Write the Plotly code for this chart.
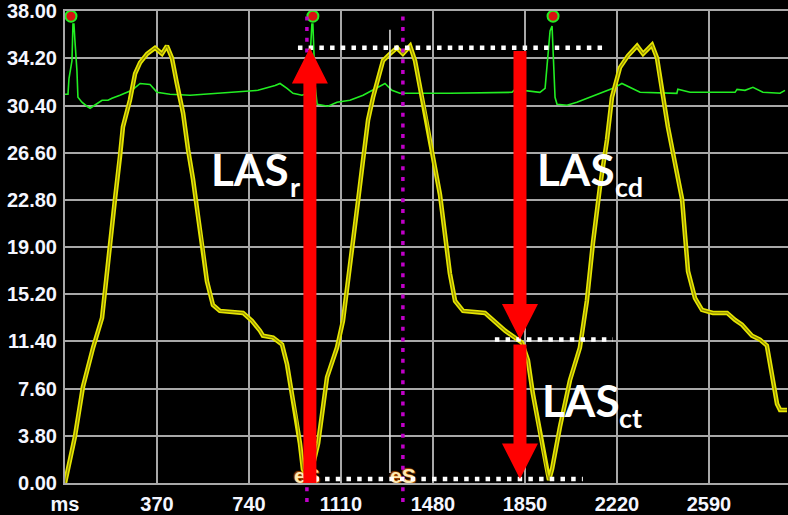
import plotly.graph_objects as go

# ---------------- data ----------------
las_t = [0, 40, 72, 113, 149, 161, 181, 201, 221, 233, 261, 282, 302, 330, 362, 390, 410, 430,
         450, 475, 495, 515, 535, 555, 571, 595, 623, 716, 752, 784, 796, 837, 873, 893, 913,
         933, 945, 957, 981, 1018, 1054, 1094, 1118, 1138, 1158, 1178, 1199, 1219, 1239, 1259,
         1279, 1307, 1335, 1359, 1388, 1408, 1428, 1456, 1480, 1508, 1528, 1548, 1569, 1601,
         1689, 1721, 1770, 1838, 1862, 1882, 1910, 1939, 1947, 1959, 1991, 2031, 2071, 2099,
         2124, 2152, 2180, 2200, 2232, 2264, 2301, 2325, 2361, 2381, 2401, 2425, 2453, 2482,
         2494, 2506, 2534, 2562, 2606, 2663, 2695, 2723, 2763, 2795, 2823, 2844, 2864, 2876, 2904]
las_v = [0.0, 3.74, 7.73, 10.91, 13.30, 15.69, 19.12, 22.86, 26.29, 28.68, 30.83, 32.98, 33.86,
         34.57, 35.05, 34.57, 35.21, 34.25, 32.18, 29.79, 26.85, 24.46, 21.51, 18.88, 16.25,
         14.34, 13.86, 13.70, 13.06, 12.27, 11.87, 11.71, 11.15, 9.56, 7.17, 5.10, 3.19, 1.12,
         0.08, 3.19, 8.52, 10.91, 13.06, 16.25, 19.12, 22.62, 26.05, 29.24, 31.07, 32.66, 34.01,
         34.57, 35.05, 34.57, 35.21, 34.01, 31.86, 29.24, 26.29, 23.26, 20.07, 16.89, 14.66,
         13.86, 13.70, 13.14, 12.27, 11.31, 9.88, 7.17, 3.98, 0.80, 0.24, 1.12, 4.54, 8.28,
         10.91, 14.66, 19.44, 23.90, 27.64, 31.07, 33.46, 34.41, 35.21, 34.57, 35.29, 34.25,
         31.63, 28.68, 25.81, 22.86, 19.92, 17.05, 14.90, 13.94, 13.70, 13.70, 13.14, 12.75,
         11.87, 11.55, 11.07, 8.76, 6.37, 5.89, 5.89]

ecg_t = [0, 12, 16, 28, 32, 36, 40, 48, 52, 68, 88, 101, 113, 149, 173, 189, 221, 269, 302,
         342, 370, 422, 503, 776, 845, 865, 893, 917, 953, 977, 985, 993, 997, 1006, 1014,
         1058, 1094, 1146, 1199, 1235, 1287, 1315, 1347, 1548, 1798, 1810, 1910, 1931, 1943,
         1951, 1959, 1971, 1979, 2019, 2059, 2099, 2152, 2204, 2240, 2272, 2313, 2461, 2465,
         2514, 2695, 2703, 2735, 2767, 2807, 2876, 2896]
ecg_v = [31.31, 31.31, 32.58, 34.01, 36.96, 36.96, 35.61, 33.22, 31.07, 30.67, 30.35, 30.19,
         30.35, 30.83, 30.83, 30.99, 31.23, 31.63, 32.18, 32.10, 31.47, 31.31, 31.23, 31.63,
         32.02, 32.18, 31.79, 31.39, 31.23, 31.39, 34.01, 36.96, 36.96, 32.02, 30.51, 30.35,
         30.67, 30.83, 31.23, 31.63, 32.18, 31.63, 31.39, 31.39, 31.47, 31.71, 31.47, 31.79,
         35.05, 36.41, 36.80, 31.07, 30.51, 30.43, 30.67, 30.99, 31.39, 31.79, 32.18, 31.87,
         31.47, 31.39, 31.71, 31.47, 31.47, 31.71, 31.63, 31.87, 31.47, 31.39, 31.63]

rpeak_t = [24, 997, 1963]
rpeak_v = [37.6, 37.6, 37.6]

es_t = [973, 1359]
es_labels = ["eS", "eS"]

y_ticks = [0, 3.8, 7.6, 11.4, 15.2, 19.0, 22.8, 26.6, 30.4, 34.2, 38.0]
y_labels = ["0.00", "3.80", "7.60", "11.40", "15.20", "19.00", "22.80", "26.60", "30.40", "34.20", "38.00"]
x_ticks = [0, 370, 740, 1110, 1480, 1850, 2220, 2590]
x_labels = ["ms", "370", "740", "1110", "1480", "1850", "2220", "2590"]

phase_main = ["LAS", "LAS", "LAS"]
phase_sub = ["r", "cd", "ct"]

las_peak = 35.05      # reservoir peak level
las_preA = 11.55      # pre-atrial-contraction level
las_min = 0.32        # minimal strain level
las_r_time = 985
las_c_time = 1830
cursor_time = 1307

# ---------------- geometry ----------------
X_RANGE = [0, 2908]
Y_RANGE = [0, 38.02]
PLOT_W, PLOT_H = 723, 477
KX = (X_RANGE[1] - X_RANGE[0]) / PLOT_W
KY = (Y_RANGE[1] - Y_RANGE[0]) / PLOT_H


def arrow_path(x, y_from, y_to, shaft_px=13, head_w_px=36, head_len_px=36):
    s = 1 if y_to > y_from else -1
    sw = shaft_px / 2 * KX
    hw = head_w_px / 2 * KX
    yb = y_to - s * head_len_px * KY
    pts = [(x - sw, y_from), (x - sw, yb), (x - hw, yb), (x, y_to),
           (x + hw, yb), (x + sw, yb), (x + sw, y_from)]
    return "M " + " L ".join(f"{a:.3f},{b:.3f}" for a, b in pts) + " Z"


fig = go.Figure()

fig.add_trace(go.Scatter(x=ecg_t, y=ecg_v, mode="lines",
                         line=dict(color="#22ee22", width=1.6), hoverinfo="skip"))
fig.add_trace(go.Scatter(x=rpeak_t, y=rpeak_v, mode="markers",
                         marker=dict(size=11, color="#d81010", line=dict(color="#22ee22", width=2)),
                         hoverinfo="skip", cliponaxis=False))
fig.add_trace(go.Scatter(x=las_t, y=las_v, mode="lines",
                         line=dict(color="#e6e600", width=4.5), hoverinfo="skip"))
fig.add_trace(go.Scatter(x=las_t, y=las_v, mode="lines",
                         line=dict(color="#8f8a00", width=1.2), hoverinfo="skip"))
fig.add_trace(go.Scatter(x=es_t, y=[0.45, 0.45], mode="text", text=es_labels,
                         textposition="middle center", cliponaxis=False,
                         textfont=dict(family="Liberation Sans", size=21, color="#ffeab0",
                                       weight="bold",
                                       shadow="1px 1px 1px #a84800, -1px -1px 1px #a84800"),
                         hoverinfo="skip"))

shapes = []
# thin white cursor
shapes.append(dict(type="line", xref="x", yref="y", x0=cursor_time, x1=cursor_time,
                   y0=0.8, y1=36.5, line=dict(color="#e8e8e8", width=1.5), layer="above"))
# magenta eS markers
for t in es_t:
    shapes.append(dict(type="line", xref="x", yref="paper", x0=t, x1=t, y0=-0.04, y1=0.99,
                       line=dict(color="#c000c8", width=3.5, dash="4px,6.7px"), layer="above"))
# white dotted levels
for y, xa, xb in [(las_peak, 937, 2160), (las_preA, 1729, 2204), (las_min, 960, 2083)]:
    shapes.append(dict(type="line", xref="x", yref="y", x0=xa, x1=xb, y0=y, y1=y,
                       line=dict(color="white", width=4.5, dash="4.5px,6.2px"), layer="above"))
# red arrows
for x, y0, y1 in [(las_r_time, 0.0, las_peak),
                  (las_c_time, las_peak - 0.25, las_preA),
                  (las_c_time, las_preA - 0.4, las_min)]:
    shapes.append(dict(type="path", xref="x", yref="y", path=arrow_path(x, y0, y1),
                       fillcolor="#ff0000", line=dict(width=0), layer="above"))

annotations = []
big = dict(family="Lato", size=44, color="white", weight="bold")
small = dict(family="Lato", size=27, color="white", weight="bold")
positions = [(583, 25.3, 902, 23.9), (1894, 25.3, 2210, 23.9), (1914, 6.7, 2224, 5.3)]
for (xl, yc, xs, ys), m, s in zip(positions, phase_main, phase_sub):
    annotations.append(dict(x=xl, y=yc, xref="x", yref="y", text=m, showarrow=False,
                            xanchor="left", yanchor="middle", font=big, borderpad=0))
    annotations.append(dict(x=xs, y=ys, xref="x", yref="y", text=s, showarrow=False,
                            xanchor="left", yanchor="middle", font=small, borderpad=0))

axis_font = dict(family="Liberation Sans", size=20, color="#f4f6ff", weight="bold")
fig.update_layout(
    width=788, height=515,
    margin=dict(l=65, r=0, t=10, b=28),
    paper_bgcolor="black", plot_bgcolor="black",
    showlegend=False,
    shapes=shapes, annotations=annotations,
    xaxis=dict(range=X_RANGE, tickvals=x_ticks, ticktext=x_labels, showgrid=True,
               gridcolor="#a8a8a8", gridwidth=2, showline=True, mirror=True,
               linecolor="#a8a8a8", linewidth=2, zeroline=False, tickfont=axis_font,
               ticks="", ticklabelstandoff=2, ticklabeloverflow="allow", fixedrange=True),
    yaxis=dict(range=Y_RANGE, tickvals=y_ticks, ticktext=y_labels, showgrid=True,
               gridcolor="#a8a8a8", gridwidth=2, showline=True, linecolor="#a8a8a8",
               linewidth=2, zeroline=False, tickfont=axis_font, ticks="",
               ticklabelstandoff=2, ticklabeloverflow="allow", fixedrange=True),
)

fig.write_html("out.html", config={"displayModeBar": False},
               post_script="document.body.style.margin='0';document.body.style.overflow='hidden';")
